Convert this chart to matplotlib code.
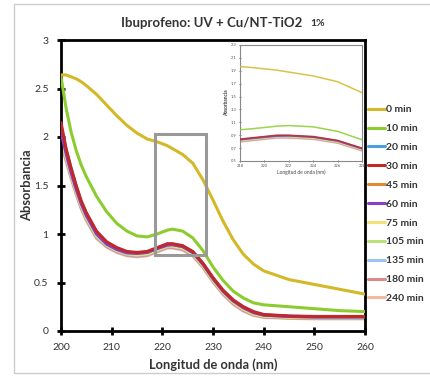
import matplotlib
matplotlib.use("Agg")
import matplotlib.pyplot as plt
from matplotlib.patches import Rectangle

plt.rcParams['font.family'] = ['Lato', 'DejaVu Sans']

wavelength = [200, 201, 202, 203, 204, 205, 207, 209, 211, 213, 215, 217, 219, 221,
              222, 224, 226, 228, 230, 232, 234, 236, 238, 240, 245, 250, 255, 260]

labels = ['0 min', '10 min', '20 min', '30 min', '45 min', '60 min', '75 min',
          '105 min', '135 min', '180 min', '240 min']
colors = ['#d4b828', '#8ccc2e', '#4a9fe0', '#c0282a', '#e08a30', '#8a3fc8',
          '#f3e07a', '#b8e27a', '#9cc4f0', '#d98a8a', '#f2b89a']

a_0 = [2.64, 2.64, 2.62, 2.60, 2.57, 2.53, 2.44, 2.33, 2.22, 2.12, 2.04, 1.98, 1.95, 1.91,
       1.88, 1.82, 1.73, 1.56, 1.35, 1.13, 0.94, 0.79, 0.69, 0.62, 0.53, 0.48, 0.43, 0.38]
a_10 = [2.62, 2.30, 2.05, 1.86, 1.71, 1.59, 1.39, 1.23, 1.11, 1.03, 0.98, 0.97, 1.00, 1.04,
        1.05, 1.03, 0.96, 0.83, 0.66, 0.52, 0.41, 0.34, 0.29, 0.27, 0.25, 0.23, 0.21, 0.20]
a_20 = [2.12, 1.87, 1.67, 1.49, 1.33, 1.21, 1.02, 0.915, 0.855, 0.815, 0.805, 0.815, 0.855, 0.895,
        0.895, 0.875, 0.815, 0.695, 0.545, 0.415, 0.315, 0.245, 0.195, 0.167, 0.152, 0.147, 0.147, 0.147]
a_30 = [2.15, 1.88, 1.68, 1.50, 1.34, 1.22, 1.03, 0.92, 0.86, 0.82, 0.81, 0.82, 0.86, 0.90,
        0.90, 0.88, 0.82, 0.70, 0.55, 0.42, 0.32, 0.25, 0.20, 0.17, 0.155, 0.15, 0.15, 0.15]
a_45 = [2.10, 1.86, 1.66, 1.48, 1.32, 1.20, 1.01, 0.91, 0.85, 0.81, 0.80, 0.81, 0.85, 0.89,
        0.89, 0.87, 0.81, 0.69, 0.54, 0.41, 0.31, 0.24, 0.19, 0.165, 0.15, 0.145, 0.145, 0.145]
a_60 = [2.05, 1.83, 1.63, 1.46, 1.31, 1.19, 1.00, 0.895, 0.84, 0.805, 0.80, 0.81, 0.85, 0.885,
        0.89, 0.87, 0.81, 0.69, 0.54, 0.41, 0.31, 0.24, 0.19, 0.163, 0.15, 0.145, 0.145, 0.145]
a_75 = [2.02, 1.81, 1.62, 1.45, 1.30, 1.18, 0.99, 0.89, 0.835, 0.80, 0.79, 0.80, 0.84, 0.88,
        0.88, 0.86, 0.80, 0.68, 0.53, 0.40, 0.30, 0.23, 0.18, 0.155, 0.145, 0.14, 0.14, 0.14]
a_105 = [2.00, 1.80, 1.61, 1.44, 1.29, 1.17, 0.98, 0.885, 0.83, 0.795, 0.785, 0.795, 0.835, 0.875,
         0.875, 0.855, 0.795, 0.675, 0.525, 0.395, 0.295, 0.225, 0.175, 0.152, 0.142, 0.137, 0.137, 0.137]
a_135 = [1.98, 1.79, 1.60, 1.43, 1.28, 1.16, 0.975, 0.88, 0.825, 0.79, 0.78, 0.79, 0.83, 0.87,
         0.87, 0.85, 0.79, 0.67, 0.52, 0.39, 0.29, 0.22, 0.172, 0.15, 0.14, 0.135, 0.135, 0.135]
a_180 = [1.96, 1.77, 1.59, 1.42, 1.27, 1.15, 0.965, 0.872, 0.818, 0.783, 0.773, 0.783, 0.823, 0.863,
         0.863, 0.843, 0.783, 0.663, 0.513, 0.383, 0.283, 0.213, 0.167, 0.145, 0.135, 0.13, 0.13, 0.13]
a_240 = [1.93, 1.75, 1.57, 1.41, 1.26, 1.14, 0.955, 0.865, 0.81, 0.775, 0.765, 0.775, 0.815, 0.855,
         0.855, 0.835, 0.775, 0.655, 0.505, 0.375, 0.275, 0.205, 0.16, 0.14, 0.13, 0.125, 0.125, 0.125]

series = [a_0, a_10, a_20, a_30, a_45, a_60, a_75, a_105, a_135, a_180, a_240]
zorders = [3.0, 2.9, 2.6, 2.8, 2.5, 2.7, 2.4, 2.3, 2.2, 2.1, 2.0]

x_ticks = [200, 210, 220, 230, 240, 250, 260]
y_ticks = [0, 0.5, 1, 1.5, 2, 2.5, 3]
y_tick_labels = ['0', '0.5', '1', '1.5', '2', '2.5', '3']
inset_x_ticks = [218, 220, 222, 224, 226, 228]
inset_y_ticks = [0.5, 0.7, 0.9, 1.1, 1.3, 1.5, 1.7, 1.9, 2.1, 2.3]

W, H = 430, 376
fig = plt.figure(figsize=(W / 100, H / 100), dpi=100)

# outer frame
fig.patches.append(Rectangle((14 / W, 3 / H), 1.0, 1 - 7 / H, transform=fig.transFigure,
                             fill=False, ec='#cccccc', lw=1.0))

ax = fig.add_axes([61 / W, 1 - 331 / H, (365 - 61) / W, (331 - 40) / H])
handles = []
for lab, col, ys, z in zip(labels, colors, series, zorders):
    h, = ax.plot(wavelength, ys, color=col, lw=2.2, label=lab, zorder=z,
                 solid_capstyle='round', solid_joinstyle='round')
    handles.append(h)

ax.set_xlim(200, 260)
ax.set_ylim(0, 3)
ax.set_xticks(x_ticks)
ax.set_yticks(y_ticks)
ax.set_yticklabels(y_tick_labels)
for s in ax.spines.values():
    s.set_linewidth(2.0)
    s.set_color('black')
ax.tick_params(direction='inout', length=6, width=2, colors='black',
               labelcolor='#333333', labelsize=7.5, pad=6)
ax.set_xlabel('Longitud de onda (nm)', fontsize=9.3, fontweight='bold', color='#333333',
              labelpad=4)
ax.set_ylabel('Absorbancia', fontsize=9.3, fontweight='bold', color='#333333', labelpad=1)

# highlight box
ax.add_patch(Rectangle((218.6, 0.78), 10.1, 1.25, fill=False, ec='#999999', lw=2.2, zorder=4))

fig.text(211.5 / W, 1 - 23 / H, 'Ibuprofeno: UV + Cu/NT-TiO2', ha='center', va='center',
         fontsize=9.5, fontweight='bold', color='#333333')
fig.text(318 / W, 1 - 23 / H, '1%', ha='center', va='center',
         fontsize=7.5, fontweight='bold', color='#333333')

leg = fig.legend(handles=handles, labels=labels, loc='upper left',
                 bbox_to_anchor=(368 / W, 1 - 105 / H), frameon=False, borderpad=0,
                 borderaxespad=0, handlelength=1.6, handletextpad=0.1, labelspacing=0.92,
                 prop={'size': 7.5, 'weight': 'bold'})
for t in leg.get_texts():
    t.set_color('#333333')

# inset
axi = fig.add_axes([240 / W, 1 - 161 / H, (362 - 240) / W, (161 - 45) / H])
for lab, col, ys, z in zip(labels, colors, series, zorders):
    axi.plot(wavelength, ys, color=col, lw=1.1, zorder=z, alpha=0.85)
axi.set_xlim(218, 228)
axi.set_ylim(0.5, 2.3)
axi.set_xticks(inset_x_ticks)
axi.set_yticks(inset_y_ticks)
for s in axi.spines.values():
    s.set_linewidth(0.8)
    s.set_color('#888888')
axi.tick_params(direction='inout', length=2, width=0.6, colors='#555555', labelsize=3, pad=1.5)
axi.set_xlabel('Longitud de onda (nm)', fontsize=3.5, color='#444444', labelpad=1)
axi.set_ylabel('Absorbancia', fontsize=3.5, color='#444444', labelpad=1, fontweight='bold')

fig.savefig('out.png', dpi=100)
